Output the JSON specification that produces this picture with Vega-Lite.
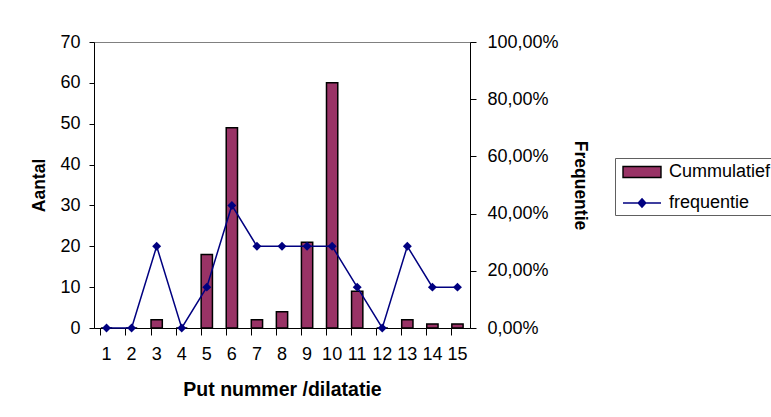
{
  "$schema": "https://vega.github.io/schema/vega-lite/v6.json",
  "width": 376,
  "height": 286,
  "autosize": {"type": "none"},
  "padding": {"left": 94, "top": 42, "right": 301, "bottom": 89},
  "background": "white",
  "config": {
    "font": "Liberation Sans",
    "view": {"fill": "#c0c0c0", "stroke": "#808080"},
    "axis": {"labelFont": "Liberation Sans", "titleFont": "Liberation Sans", "labelColor": "black", "titleColor": "black", "domainColor": "black", "tickColor": "black", "grid": false, "labelFontSize": 18, "titleFontWeight": "bold"}
  },
  "data": {
    "values": [
      {"put": "1", "aantal": 0, "freq": 0},
      {"put": "2", "aantal": 0, "freq": 0},
      {"put": "3", "aantal": 2, "freq": 0.2857},
      {"put": "4", "aantal": 0, "freq": 0},
      {"put": "5", "aantal": 18, "freq": 0.1429},
      {"put": "6", "aantal": 49, "freq": 0.4286},
      {"put": "7", "aantal": 2, "freq": 0.2857},
      {"put": "8", "aantal": 4, "freq": 0.2857},
      {"put": "9", "aantal": 21, "freq": 0.2857},
      {"put": "10", "aantal": 60, "freq": 0.2857},
      {"put": "11", "aantal": 9, "freq": 0.1429},
      {"put": "12", "aantal": 0, "freq": 0},
      {"put": "13", "aantal": 2, "freq": 0.2857},
      {"put": "14", "aantal": 1, "freq": 0.1429},
      {"put": "15", "aantal": 1, "freq": 0.1429}
    ]
  },
  "layer": [
    {
      "mark": {"type": "bar", "fill": "#993366", "stroke": "black", "strokeWidth": 1.5},
      "encoding": {
        "x": {
          "field": "put", "type": "ordinal", "sort": null,
          "scale": {"paddingInner": 0.55, "paddingOuter": 0.275},
          "axis": {"title": "Put nummer /dilatatie", "titleFontSize": 19.5, "labelAngle": 0, "bandPosition": 0, "tickSize": 7, "labelPadding": 10, "titlePadding": 17, "labelFontSize": 18}
        },
        "y": {"field": "aantal", "type": "quantitative", "scale": {"domain": [0, 70]}, "axis": {"title": "Aantal", "titleFontSize": 17.5, "values": [0, 10, 20, 30, 40, 50, 60, 70], "tickSize": 5, "labelPadding": 9, "titlePadding": 11}}
      }
    },
    {
      "mark": {"type": "line", "color": "#000080", "strokeWidth": 1.5, "point": {"shape": "diamond", "filled": true, "size": 80, "color": "#000080"}},
      "encoding": {
        "x": {"field": "put", "type": "ordinal", "sort": null},
        "y": {"field": "freq", "type": "quantitative", "scale": {"domain": [0, 1]}, "axis": {"orient": "right", "title": "Frequentie", "titleFontSize": 17.5, "values": [0, 0.2, 0.4, 0.6, 0.8, 1], "labelExpr": "replace(format(datum.value, '.2%'), '.', ',')", "tickSize": 6, "labelPadding": 11, "titlePadding": 12}}
      }
    },
    {
      "transform": [{"filter": "false"}],
      "mark": {"type": "point", "filled": true, "opacity": 1, "strokeWidth": 1.4},
      "encoding": {
        "fill": {
          "datum": "frequentie",
          "scale": {"domain": ["Cummulatief", "frequentie"], "range": ["#993366", "#000080"]},
          "legend": {
            "title": null,
            "orient": "none",
            "legendX": 521,
            "legendY": 116,
            "direction": "vertical",
            "fillColor": "white",
            "strokeColor": "#606060",
            "padding": 3,
            "symbolSize": 400,
            "symbolOffset": 13,
            "labelOffset": 16,
            "rowPadding": 11,
            "symbolOpacity": 1,
            "symbolStrokeWidth": 1.4,
            "labelFont": "Liberation Sans",
            "labelFontSize": 18,
            "labelColor": "black"
          }
        },
        "stroke": {
          "datum": "frequentie",
          "scale": {"domain": ["Cummulatief", "frequentie"], "range": ["black", "#000080"]}
        },
        "shape": {
          "datum": "frequentie",
          "scale": {"domain": ["Cummulatief", "frequentie"], "range": ["M-1.9,-0.55H1.9V0.55H-1.9Z", "M-1.9,0H1.9M0,-0.42L0.38,0L0,0.42L-0.38,0Z"]}
        }
      }
    }
  ],
  "resolve": {"scale": {"y": "independent"}}
}
